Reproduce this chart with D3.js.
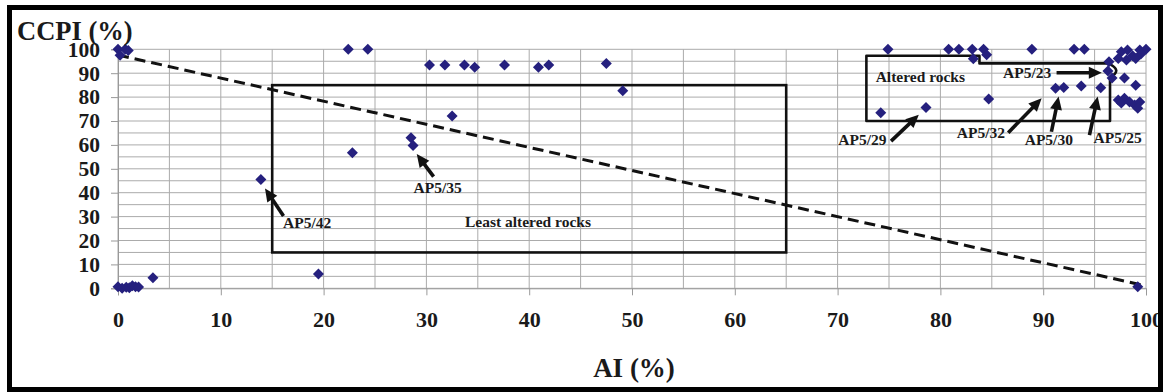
<!DOCTYPE html>
<html>
<head>
<meta charset="utf-8">
<script src="https://cdn.jsdelivr.net/npm/d3@7"></script>
<style>
  html, body { margin: 0; padding: 0; background: #fff; }
  svg { display: block; }
  text { font-family: "Liberation Serif", "Times New Roman", serif; font-weight: bold; fill: #1a1a1a; }
</style>
</head>
<body>
<svg id="chart" width="1163" height="392"></svg>
<script>
// ---- data ----
const aiValues = [
  0, 0.7, 1.0, 0.2,
  0, 0.4, 0.8, 1.1, 1.4, 1.7, 2.0,
  3.4, 13.9, 19.5,
  22.4, 24.3, 22.8, 28.5, 28.7,
  30.3, 31.8, 33.7, 34.7, 37.6, 40.9, 41.9, 32.5,
  47.5, 49.1,
  74.9, 74.2, 78.6,
  80.8, 81.8, 83.1, 84.2, 83.2, 84.5, 84.7,
  88.9, 93.0, 94.0,
  91.2, 92.0, 93.7, 95.6,
  96.3, 96.4, 96.7, 97.9, 99.0,
  97.3, 97.6, 98.2, 98.7, 99.4, 100, 99.0, 98.1, 99.5,
  97.3, 97.9, 98.4, 98.9, 99.4, 99.2, 97.6,
  99.2
];
const ccpiValues = [
  100, 100, 99.5, 97.5,
  0.6, 0, 0.4, 0.2, 1.1, 0.6, 0.5,
  4.4, 45.5, 6,
  100, 100, 56.7, 63, 59.7,
  93.4, 93.4, 93.4, 92.5, 93.4, 92.5, 93.4, 72.1,
  94.1, 82.7,
  100, 73.5, 75.6,
  100, 100, 100, 100, 96, 97.7, 79.2,
  100, 100, 100,
  83.7, 84, 84.6, 83.9,
  90.9, 94.8, 88, 88, 85,
  96.2, 99, 99.7, 97.3, 99.7, 100, 96.2, 95.5, 98,
  78.8, 79.5, 78, 76.7, 78, 75.3, 77.5,
  0.7
];
const xTickLabels = ["0","10","20","30","40","50","60","70","80","90","100"];
const yTickLabels = ["0","10","20","30","40","50","60","70","80","90","100"];
const trendStart = [0, 97.6];
const trendEnd = [100, 1];
const leastBox = [15, 15, 65, 85]; // x0, y0, x1, y1
const alteredBox = [[96.5, 70], [72.8, 70], [72.8, 97.3], [83.8, 97.3], [83.8, 94.1], [96.3, 94.1]];
const alteredBulge = [[97.8, 91.3], [96.5, 88.3]];
const arrowTails = [[16.1, 30.3], [30.7, 46.7], [75.2, 61.6], [91.3, 90.2], [86.6, 65.1], [90.8, 65.5], [94.5, 64.1]];
const arrowTips  = [[14.3, 41.8], [29.06, 56.2], [77.9, 72.6], [95.7, 90.2], [89.85, 79.5], [91.5, 80.2], [95.3, 80.2]];
const noteTexts = ["AP5/42", "AP5/35", "Least altered rocks", "Altered rocks", "AP5/29", "AP5/23", "AP5/32", "AP5/30", "AP5/25"];
const notePos = [[16.05, 25.2], [28.75, 39.75], [33.75, 25.6], [73.7, 86.4], [70.07, 60], [86.1, 88], [81.6, 62.9], [88.2, 60], [94.9, 60.8]];

// ---- drawing ----
const svg = d3.select("#chart");
const x = d3.scaleLinear().domain([0, 100]).range([118, 1146]);
const y = d3.scaleLinear().domain([0, 100]).range([288.3, 49.3]);
const FONT = "'Liberation Serif', 'Times New Roman', serif";

svg.append("rect").attr("width", 1163).attr("height", 392).attr("fill", "#fff");

// grid (every 5)
const g = svg.append("g");
const grid5 = d3.range(0, 101, 5);
g.selectAll("line.v").data(grid5).join("line")
  .attr("x1", d => x(d)).attr("x2", d => x(d))
  .attr("y1", y(0)).attr("y2", y(100))
  .attr("stroke", "#ababab").attr("stroke-width", 1);
g.selectAll("line.h").data(grid5).join("line")
  .attr("y1", d => y(d)).attr("y2", d => y(d))
  .attr("x1", x(0)).attr("x2", x(100))
  .attr("stroke", "#ababab").attr("stroke-width", 1);

// axes
const xAxis = d3.axisBottom(x).tickValues(d3.range(0, 101, 10))
  .tickFormat((d, i) => xTickLabels[i]).tickSize(7).tickPadding(16);
const xg = svg.append("g").attr("transform", `translate(0,${y(0)})`).call(xAxis)
  .attr("font-family", FONT);
xg.select(".domain").attr("stroke", "#999");
xg.selectAll(".tick line").attr("stroke", "#999");
xg.selectAll(".tick text").attr("font-size", 22).attr("fill", "#1a1a1a")
  .attr("font-weight", "bold");

const yAxis = d3.axisLeft(y).tickValues(d3.range(0, 101, 10))
  .tickFormat((d, i) => yTickLabels[i]).tickSize(7).tickPadding(11);
const yg = svg.append("g").attr("transform", `translate(${x(0)},0)`).call(yAxis)
  .attr("font-family", FONT);
yg.select(".domain").attr("stroke", "#999");
yg.selectAll(".tick line").attr("stroke", "#999");
yg.selectAll(".tick text").attr("font-size", 21.5).attr("fill", "#1a1a1a")
  .attr("font-weight", "bold");

// boxes
svg.append("rect")
  .attr("x", x(leastBox[0])).attr("y", y(leastBox[3]))
  .attr("width", x(leastBox[2]) - x(leastBox[0]))
  .attr("height", y(leastBox[1]) - y(leastBox[3]))
  .attr("fill", "none").attr("stroke", "#111").attr("stroke-width", 2.6);

const ap = d3.path();
ap.moveTo(x(alteredBulge[1][0]), y(alteredBulge[1][1]));
ap.lineTo(x(alteredBox[0][0]), y(alteredBox[0][1]));
for (let i = 1; i < alteredBox.length; i++) ap.lineTo(x(alteredBox[i][0]), y(alteredBox[i][1]));
ap.quadraticCurveTo(x(alteredBulge[0][0]), y(alteredBulge[0][1]), x(alteredBulge[1][0]), y(alteredBulge[1][1]));
svg.append("path").attr("d", ap.toString())
  .attr("fill", "none").attr("stroke", "#111").attr("stroke-width", 2.6)
  .attr("stroke-linejoin", "round");

// trend line
svg.append("line")
  .attr("x1", x(trendStart[0])).attr("y1", y(trendStart[1]))
  .attr("x2", x(trendEnd[0])).attr("y2", y(trendEnd[1]))
  .attr("stroke", "#111").attr("stroke-width", 3).attr("stroke-dasharray", "11,6");

// points (diamonds)
const pts = aiValues.map((a, i) => [a, ccpiValues[i]]);
svg.append("g").selectAll("path").data(pts).join("path")
  .attr("transform", d => `translate(${x(d[0])},${y(d[1])})`)
  .attr("d", "M0,-5.5L5.5,0L0,5.5L-5.5,0Z")
  .attr("fill", "#25207e");

// arrows
const ag = svg.append("g");
arrowTails.forEach((t, i) => {
  const x0 = x(t[0]), y0 = y(t[1]);
  const x1 = x(arrowTips[i][0]), y1 = y(arrowTips[i][1]);
  const dx = x1 - x0, dy = y1 - y0, L = Math.hypot(dx, dy);
  const ux = dx / L, uy = dy / L;
  const hl = 13, hw = 6;
  const bx = x1 - ux * hl, by = y1 - uy * hl;
  ag.append("line").attr("x1", x0).attr("y1", y0)
    .attr("x2", bx + ux * 2).attr("y2", by + uy * 2)
    .attr("stroke", "#111").attr("stroke-width", 3.6);
  ag.append("path")
    .attr("d", `M${x1},${y1}L${bx - uy * hw},${by + ux * hw}L${bx + uy * hw},${by - ux * hw}Z`)
    .attr("fill", "#111");
});

// annotation labels
svg.append("g").selectAll("text").data(noteTexts).join("text")
  .attr("x", (d, i) => x(notePos[i][0])).attr("y", (d, i) => y(notePos[i][1]))
  .attr("font-size", 15.5).text(d => d);

// axis titles
svg.append("text").attr("x", 17).attr("y", 39.5).attr("font-size", 26.5).text("CCPI (%)");
svg.append("text").attr("x", (x(0) + x(100)) / 2 + 2).attr("y", 377)
  .attr("text-anchor", "middle").attr("font-size", 27).text("AI (%)");

// frame
svg.append("rect").attr("x", 9.5).attr("y", 7.5).attr("width", 1151).attr("height", 382)
  .attr("fill", "none").attr("stroke", "#000").attr("stroke-width", 5);
</script>
</body>
</html>
